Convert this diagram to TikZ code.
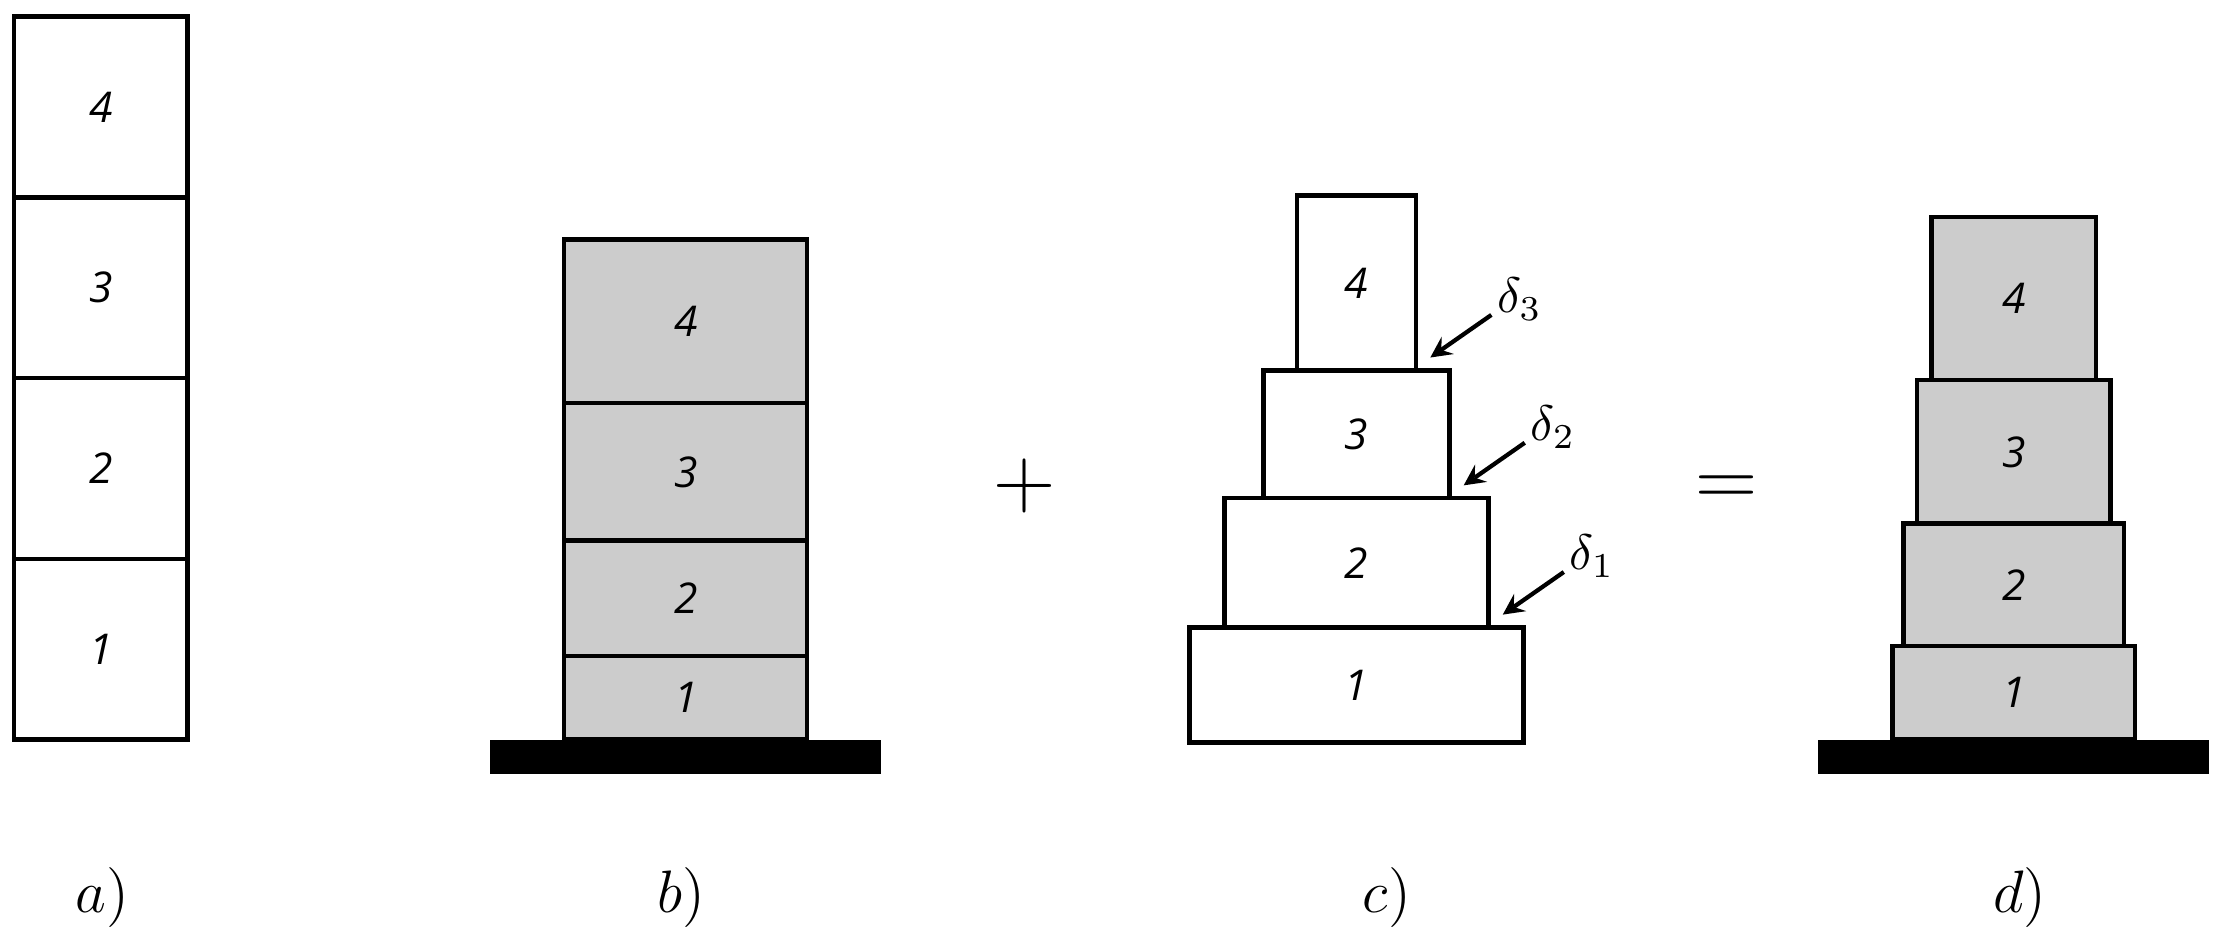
\documentclass[tikz,border=0pt]{standalone}
\usepackage{fontspec}
\newfontfamily\storeyfont{Open Sans}
\usepackage{tikz}
\usetikzlibrary{arrows,positioning}

\begin{document}
\begin{tikzpicture}[
    x=0.01cm, y=-0.01cm,
    storey/.style={rectangle, draw=black, line width=0.9pt, outer sep=0pt, inner sep=0pt, anchor=south, font=\storeyfont\itshape\fontsize{8.5}{10}\selectfont},
    shaded/.style={storey, fill=black!20},
    ground/.style={rectangle, fill=black, outer sep=0pt, inner sep=0pt, minimum width=2.75cm, minimum height=0.24cm, anchor=north},
    caption/.style={font=\large},
    sign/.style={font=\LARGE},
    gap/.style={->, >=stealth, line width=0.85pt}
]
\useasboundingbox (0,0) rectangle (1568,662);

% a) free column
\node[storey, minimum width=1.22cm, minimum height=1.2725cm] (a1) at (71,521) {1};
\node[storey, minimum width=1.22cm, minimum height=1.2725cm, above=0pt of a1] (a2) {2};
\node[storey, minimum width=1.22cm, minimum height=1.2725cm, above=0pt of a2] (a3) {3};
\node[storey, minimum width=1.22cm, minimum height=1.2725cm, above=0pt of a3] (a4) {4};

% b) fixed column
\node[ground] (bbase) at (483,521) {};
\node[shaded, minimum width=1.71cm, minimum height=0.59cm, above=0pt of bbase] (b1) {1};
\node[shaded, minimum width=1.71cm, minimum height=0.81cm, above=0pt of b1] (b2) {2};
\node[shaded, minimum width=1.71cm, minimum height=0.97cm, above=0pt of b2] (b3) {3};
\node[shaded, minimum width=1.71cm, minimum height=1.15cm, above=0pt of b3] (b4) {4};

\node[sign] (plus) at (722,342) {$+$};

% c) stepped column
\node[storey, minimum width=2.35cm, minimum height=0.81cm] (c1) at (955.5,523) {1};
\node[storey, minimum width=1.86cm, minimum height=0.91cm, above=0pt of c1] (c2) {2};
\node[storey, minimum width=1.31cm, minimum height=0.90cm, above=0pt of c2] (c3) {3};
\node[storey, minimum width=0.84cm, minimum height=1.23cm, above=0pt of c3] (c4) {4};

% offsets
\node (del1) at ([shift={(73,-50)}]c2.south east) {$\delta_1$};
\node (del2) at ([shift={(73,-50)}]c3.south east) {$\delta_2$};
\node (del3) at ([shift={(73,-50)}]c4.south east) {$\delta_3$};
\coordinate (t1) at ([shift={(53,-39)}]c2.south east);
\coordinate (h1) at ([shift={(10,-9)}]c2.south east);
\coordinate (t2) at ([shift={(53,-39)}]c3.south east);
\coordinate (h2) at ([shift={(10,-9)}]c3.south east);
\coordinate (t3) at ([shift={(53,-39)}]c4.south east);
\coordinate (h3) at ([shift={(10,-9)}]c4.south east);
\draw[gap] (t1) -- (h1);
\draw[gap] (t2) -- (h2);
\draw[gap] (t3) -- (h3);

\node[sign] (equals) at (1216,346) {$=$};

% d) resulting column
\node[ground] (dbase) at (1418.5,521) {};
\node[shaded, minimum width=1.71cm, minimum height=0.66cm, above=0pt of dbase] (d1) {1};
\node[shaded, minimum width=1.55cm, minimum height=0.86cm, above=0pt of d1] (d2) {2};
\node[shaded, minimum width=1.36cm, minimum height=1.01cm, above=0pt of d2] (d3) {3};
\node[shaded, minimum width=1.16cm, minimum height=1.15cm, above=0pt of d3] (d4) {4};

% captions
\node[caption] (capa) at (72,632) {$a)$};
\node[caption] (capb) at (480,632) {$b)$};
\node[caption] (capc) at (977,632) {$c)$};
\node[caption] (capd) at (1423,632) {$d)$};

\end{tikzpicture}
\end{document}
